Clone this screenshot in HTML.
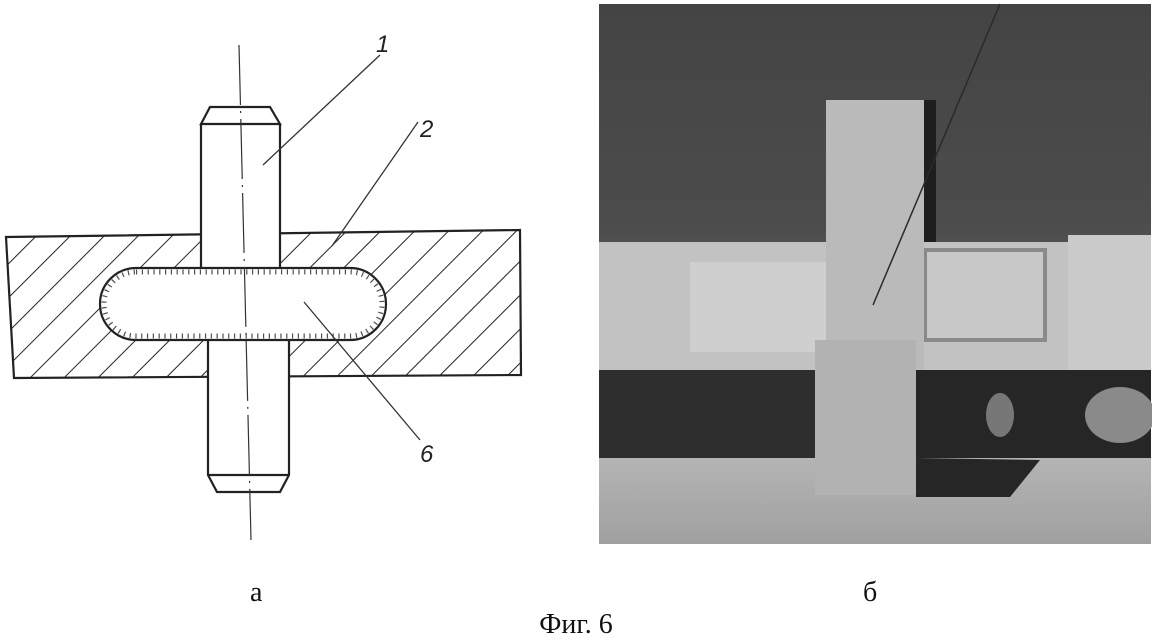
<!DOCTYPE html>
<html><head><meta charset="utf-8"><style>
html,body{margin:0;padding:0;background:#fff;width:1152px;height:638px;overflow:hidden}
</style></head><body>
<svg width="1152" height="638" viewBox="0 0 1152 638" xmlns="http://www.w3.org/2000/svg">
<defs>
<pattern id="h" patternUnits="userSpaceOnUse" width="24" height="24" patternTransform="rotate(45)">
<line x1="0" y1="0" x2="0" y2="24" stroke="#222" stroke-width="2"/>
</pattern>
<linearGradient id="bg" x1="0" y1="0" x2="0" y2="1">
<stop offset="0" stop-color="#444"/><stop offset="0.4" stop-color="#4c4c4c"/><stop offset="0.75" stop-color="#6e6e6e"/><stop offset="1" stop-color="#5e5e5e"/>
</linearGradient>
<linearGradient id="fl" x1="0" y1="0" x2="0" y2="1">
<stop offset="0" stop-color="#b4b4b4"/><stop offset="1" stop-color="#a0a0a0"/>
</linearGradient>
</defs>
<!-- drawing a -->
<path d="M6 237 L520 230 L521 375 L14 378 Z" fill="url(#h)" stroke="#222" stroke-width="2.2"/>
<rect x="201" y="107" width="79" height="162" fill="#fff"/>
<rect x="208" y="339" width="81" height="153" fill="#fff"/>
<g fill="none" stroke="#222" stroke-width="2.2">
<rect x="100" y="268" width="286" height="72" rx="36" fill="#fff"/>
<path d="M201 124 L201 268 M280 124 L280 268 M201 124 L210 107 L270 107 L280 124 Z"/>
<path d="M208 340 L208 475 L217 492 L280 492 L289 475 L289 340 M208 475 L289 475"/>
</g>
<rect x="104" y="272" width="278" height="64" rx="32" fill="none" stroke="#222" stroke-width="5" stroke-dasharray="1.2 4.6" opacity="0.8"/>
<line x1="239" y1="45" x2="251" y2="540" stroke="#333" stroke-width="1.2" stroke-dasharray="60 6 2 6"/>
<g stroke="#333" stroke-width="1.3">
<line x1="263" y1="165" x2="380" y2="55"/>
<line x1="332" y1="246" x2="418" y2="122"/>
<line x1="304" y1="302" x2="420" y2="440"/>
</g>
<g font-family="Liberation Sans, sans-serif" font-style="italic" font-size="24" fill="#222">
<text x="376" y="52">1</text>
<text x="420" y="137">2</text>
<text x="420" y="462">6</text>
</g>
<!-- photo b -->
<rect x="599" y="4" width="552" height="540" fill="url(#bg)"/>
<rect x="599" y="242" width="552" height="128" fill="#c2c2c2"/>
<rect x="690" y="262" width="150" height="90" fill="#cfcfcf"/>
<rect x="925" y="250" width="120" height="90" fill="#c8c8c8" stroke="#8a8a8a" stroke-width="4"/>
<rect x="1068" y="235" width="83" height="135" fill="#cacaca"/>
<rect x="599" y="370" width="552" height="90" fill="#2e2e2e"/>
<path d="M916 370 L1151 370 L1151 458 L1040 460 L1010 497 L916 497 Z" fill="#262626"/>
<ellipse cx="1120" cy="415" rx="35" ry="28" fill="#8a8a8a"/>
<ellipse cx="1000" cy="415" rx="14" ry="22" fill="#777"/>
<rect x="599" y="458" width="552" height="86" fill="url(#fl)"/>
<path d="M916 458 L1040 460 L1010 497 L916 497 Z" fill="#262626"/>
<rect x="924" y="100" width="12" height="142" fill="#1e1e1e"/>
<rect x="826" y="100" width="98" height="270" fill="#bababa"/>
<rect x="815" y="340" width="101" height="155" fill="#b2b2b2"/>
<line x1="1000" y1="4" x2="873" y2="305" stroke="#2a2a2a" stroke-width="1.5"/>
<!-- captions -->
<g font-family="Liberation Serif, serif" font-size="28" fill="#111">
<text x="250" y="601">а</text>
<text x="863" y="601">б</text>
<text x="576" y="633" text-anchor="middle">Фиг. 6</text>
</g>
</svg>
</body></html>
